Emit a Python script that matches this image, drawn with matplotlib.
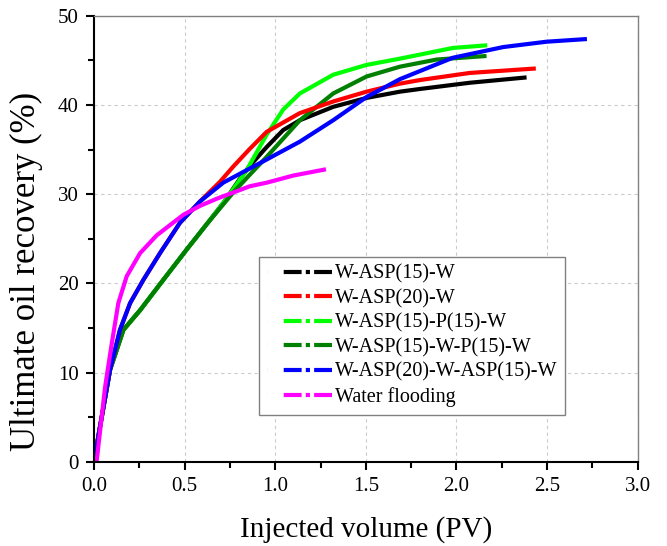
import numpy as np
import matplotlib.pyplot as plt

plt.rcParams['font.family'] = ['Liberation Serif', 'DejaVu Serif']

# Curvas (PV inyectado, recuperación %)
x_w15 = [0, 0.03, 0.088, 0.162, 0.254, 0.382, 0.511, 0.62, 0.72, 0.8, 0.86, 0.953,
         1.044, 1.136, 1.32, 1.504, 1.688, 1.798, 2.074, 2.387]
y_w15 = [0, 3.6, 10.3, 14.8, 17.0, 20.4, 23.8, 26.6, 29.2, 31.6, 33.2, 35.3,
         37.2, 38.3, 39.8, 40.8, 41.5, 41.8, 42.5, 43.1]

x_w20 = [0, 0.03, 0.088, 0.143, 0.199, 0.272, 0.364, 0.474, 0.585, 0.695, 0.768,
         0.86, 0.953, 1.136, 1.32, 1.504, 1.688, 1.798, 2.074, 2.438]
y_w20 = [0, 3.6, 10.3, 14.8, 17.8, 20.4, 23.4, 26.8, 29.2, 31.4, 33.1,
         35.1, 37.0, 39.1, 40.4, 41.5, 42.4, 42.8, 43.6, 44.1]

x_w15p = [0, 0.03, 0.088, 0.162, 0.254, 0.382, 0.511, 0.62, 0.72, 0.842, 0.953,
          1.044, 1.136, 1.32, 1.504, 1.688, 1.98, 2.17]
y_w15p = [0, 3.6, 10.3, 14.8, 17.0, 20.4, 23.8, 26.6, 29.2, 32.7, 36.7,
          39.5, 41.3, 43.4, 44.5, 45.2, 46.4, 46.7]

x_w15wp = [0, 0.03, 0.088, 0.162, 0.254, 0.382, 0.511, 0.62, 0.768, 0.86, 0.953,
           1.136, 1.228, 1.32, 1.504, 1.688, 1.89, 2.166]
y_w15wp = [0, 3.6, 10.3, 14.8, 17.0, 20.4, 23.8, 26.6, 30.2, 32.2, 34.2,
           38.3, 39.8, 41.3, 43.2, 44.3, 45.1, 45.5]

x_w20w15 = [0, 0.03, 0.088, 0.143, 0.199, 0.272, 0.364, 0.474, 0.585, 0.713, 0.842,
            0.953, 1.136, 1.32, 1.504, 1.688, 1.98, 2.258, 2.497, 2.72]
y_w20w15 = [0, 3.6, 10.3, 14.8, 17.8, 20.4, 23.4, 26.8, 29.2, 31.3, 32.7,
            33.9, 35.9, 38.3, 40.9, 42.9, 45.3, 46.5, 47.1, 47.4]

x_agua = [0, 0.015, 0.061, 0.098, 0.134, 0.18, 0.254, 0.346, 0.493, 0.585, 0.677,
          0.86, 0.953, 1.1, 1.28]
y_agua = [0, 0.2, 8.4, 13.3, 17.8, 20.8, 23.4, 25.4, 27.7, 28.7, 29.5,
          30.9, 31.3, 32.1, 32.8]

etiquetas = ['W-ASP(15)-W', 'W-ASP(20)-W', 'W-ASP(15)-P(15)-W',
             'W-ASP(15)-W-P(15)-W', 'W-ASP(20)-W-ASP(15)-W', 'Water flooding']
colores = ['black', 'red', '#00ff00', 'green', 'blue', 'magenta']

series = [(x_w15, y_w15), (x_w20, y_w20), (x_w15p, y_w15p),
          (x_w15wp, y_w15wp), (x_w20w15, y_w20w15), (x_agua, y_agua)]

fig = plt.figure(figsize=(6.67, 5.46), dpi=100)
ax = fig.add_axes([0.141, 0.154, 0.815, 0.817])

# Orden de dibujo según cómo se superponen en el original
orden = [0, 2, 3, 1, 4, 5]
for i in orden:
    ax.plot(series[i][0], series[i][1], color=colores[i], linewidth=3,
            solid_joinstyle='round', solid_capstyle='butt')

# Entradas de la leyenda: raya-punto-raya con un hueco a la izquierda
patron = (0, (0.01, 4, 4.3, 1, 1, 1, 4.3, 10))
handles = [plt.Line2D([], [], color=c, linewidth=3, linestyle=patron,
                      dash_capstyle='butt') for c in colores]
ax.legend(handles, etiquetas, loc='lower left', bbox_to_anchor=(0.303, 0.105),
          borderaxespad=0, fontsize=14.5, handlelength=3.25, handletextpad=0.12,
          labelspacing=0.26, fancybox=False, edgecolor='gray', framealpha=1,
          borderpad=0.4)

ax.set_xlim(0, 3.0)
ax.set_ylim(0, 50)
ax.set_xticks(np.arange(0, 3.01, 0.5))
ax.set_xticks(np.arange(0.25, 3.0, 0.5), minor=True)
ax.set_yticks(np.arange(0, 51, 10))
ax.set_yticks(np.arange(5, 50, 10), minor=True)
ax.set_xticklabels(['0.0', '0.5', '1.0', '1.5', '2.0', '2.5', '3.0'])
ax.grid(True, which='major', linestyle=(0, (3, 3)), color='#cccccc', linewidth=0.8)

ax.tick_params(which='major', direction='out', length=6, width=1.5, labelsize=15,
               pad=5)
ax.tick_params(which='minor', direction='out', length=4, width=1.5)
for lado in ['left', 'bottom']:
    ax.spines[lado].set_linewidth(1.5)
for lado in ['top', 'right']:
    ax.spines[lado].set_color('gray')
    ax.spines[lado].set_linewidth(1)

ax.set_xlabel('Injected volume (PV)', fontsize=21, labelpad=14)
ax.set_ylabel('Ultimate oil recovery (%)', fontsize=25)
ax.yaxis.set_label_coords(-0.094, 0.426)

plt.savefig('out.png', dpi=100)
